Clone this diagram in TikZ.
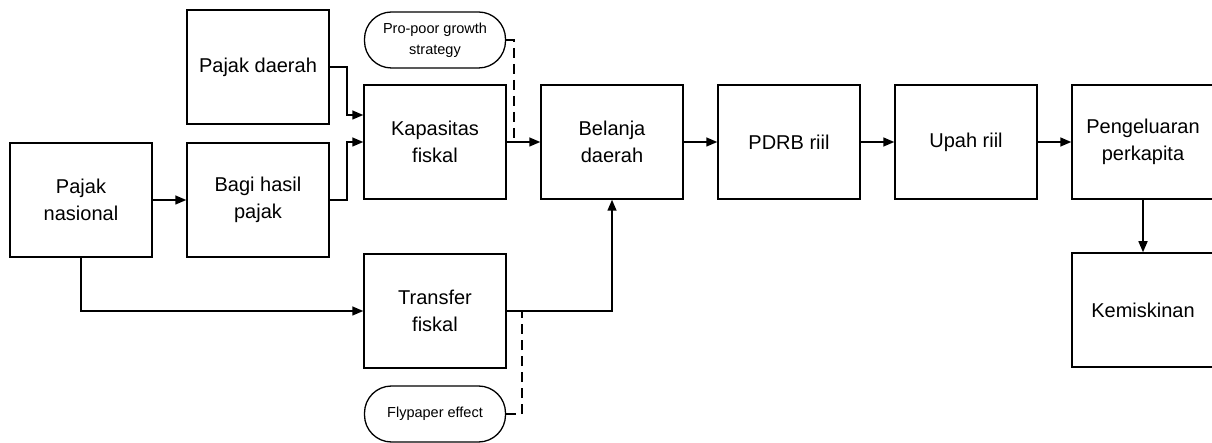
\documentclass[tikz,border=0pt]{standalone}
\usepackage{fontspec}
\setmainfont{Liberation Sans}
\usetikzlibrary{positioning,arrows.meta}

\begin{document}
\begin{tikzpicture}[x=1pt,y=1pt,node distance=177pt,on grid,
    box/.style={draw,line width=1.5pt,minimum width=142pt,minimum height=114pt,
      align=center,font=\fontsize{20}{27}\selectfont},
    note/.style={draw,line width=1.3pt,rounded corners=27pt,minimum width=141pt,
      minimum height=56pt,align=center,font=\fontsize{14.5}{21}\selectfont},
    link/.style={line width=1.5pt,-{Triangle[length=11pt,width=9pt]}},
    hint/.style={line width=1.5pt,dash pattern=on 10pt off 6pt}]
   \useasboundingbox (0,0) rectangle (1212,-443);
   \node[box] (pnas) at (81,-200) {Pajak\\nasional};
   \node[box] (bagi) [right=of pnas] {Bagi hasil\\pajak};
   \node[box] (pdaerah) [above=133pt of bagi] {Pajak daerah};
   \node[box] (kap) [above right=58pt and 177pt of bagi] {Kapasitas\\fiskal};
   \node[box] (belanja) [right=of kap] {Belanja\\daerah};
   \node[box] (pdrb) [right=of belanja] {PDRB riil};
   \node[box] (upah) [right=of pdrb] {Upah riil};
   \node[box] (peng) [right=of upah] {Pengeluaran\\perkapita};
   \node[box] (kem) [below=168pt of peng] {Kemiskinan};
   \node[box] (transfer) [below=169pt of kap] {Transfer\\fiskal};
   \node[note] (propoor) [above=102pt of kap] {Pro-poor growth\\strategy};
   \node[note] (flypaper) [below=103pt of transfer] {Flypaper effect};
    \draw[link] (pdaerah.east) -- ++(17pt,0) |- ([yshift=27pt]kap.west);
    \draw[link] (bagi.east) -- ++(17pt,0) |- (kap.west);
    \draw[link] (pnas) -- (bagi);
    \draw[link] (pnas.south) |- (transfer.west);
    \draw[link] (transfer.east) -| (belanja.south);
    \draw[link] (kap) -- (belanja);
    \draw[link] (belanja) -- (pdrb);
    \draw[link] (pdrb) -- (upah);
    \draw[link] (upah) -- (peng);
    \draw[link] (peng) -- (kem);
    \draw[hint] (propoor.east) -- ++(8pt,0) |- (kap.east);
    \draw[hint] (flypaper.east) -- ++(16pt,0) |- (transfer.east);
\end{tikzpicture}
\end{document}
